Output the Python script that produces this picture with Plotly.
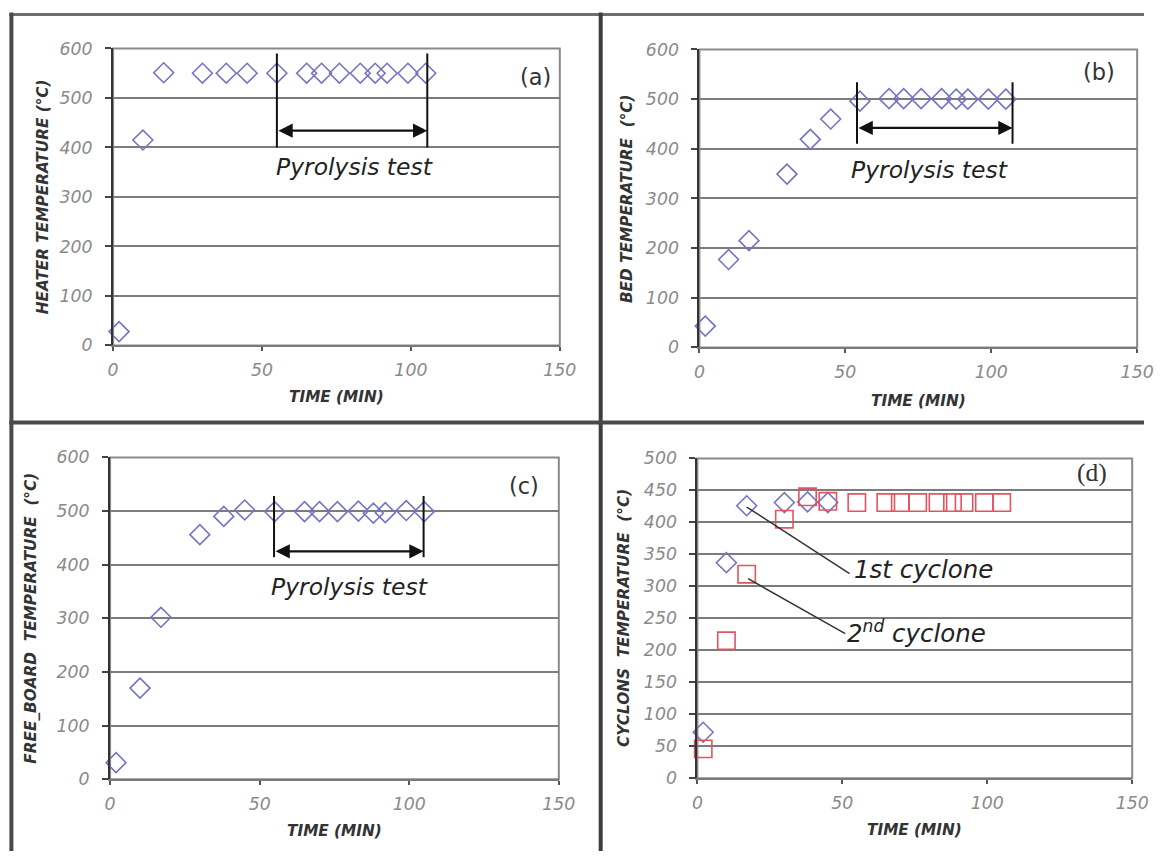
import plotly.graph_objects as go

W, H = 1161, 861

# measured: the photographed page shows figure pixel f at about 3.6 + 0.983 f
# horizontally and 9.5 + 0.977 f vertically, so target pixels are mapped back
SX, OX = 0.983, 3.6
SY, OY = 0.977, 9.5
FS = 1 / 0.98  # font / marker compensation

# ---------------- data ----------------
time_min = [2, 10, 17, 30, 38, 45, 55, 65, 70, 76, 83, 88, 92, 99, 105]
heater_temp = [28, 415, 551, 550, 550, 550, 550, 550, 550, 550, 550, 550, 550, 550, 550]
bed_temp = [43, 177, 215, 349, 419, 460, 496, 501, 501, 501, 501, 500, 500, 500, 500]
freeboard_temp = [31, 170, 302, 456, 490, 502, 499, 499, 499, 499, 500, 496, 497, 501, 499]
cyclone1_time = [2, 10, 17, 30, 38, 45]
cyclone1_temp = [72, 337, 426, 431, 432, 431]
cyclone2_temp = [46, 215, 319, 405, 440, 433, 431, 431, 431, 431, 431, 431, 431, 431, 431]

x_ticks = [0, 50, 100, 150]
panel_labels = ["(a)", "(b)", "(c)", "(d)"]
y_titles = ["HEATER TEMPERATURE (°C)", "BED TEMPERATURE  (°C)",
            "FREE_BOARD  TEMPERATURE  (°C)", "CYCLONS  TEMPERATURE  (°C)"]
x_title = "TIME (MIN)"

# pyrolysis window per panel: (start, end, line_bottom, line_top, arrow_y, text_x, text_y)
pyro_a = (55, 105.5, 400, 590, 434, 81, 360)
pyro_b = (54, 107.3, 410, 534, 442, 79, 357)
pyro_c = (54.8, 104.8, 414, 528, 425, 80, 358)

# ---------------- layout geometry (target page pixels) ----------------
panels = [  # (left, right, top, bottom) of each plot area
    (111, 559, 48, 345),
    (699, 1138, 49, 347),
    (108, 558, 457, 779),
    (697, 1133, 458, 778),
]
y_ranges = [(0, 600, 100), (0, 600, 100), (0, 600, 100), (0, 500, 50)]
ytitle_x = [41, 627, 29, 624]
xtitle_y = [397, 401, 831, 830]

DIAMOND = "#7474C4"
SQUARE = "#E2545E"
TICKC = "#8a8a8a"
FONT = "DejaVu Sans"


def px(x):
    return min(max((x - OX) / SX / W, 0), 1)


def py(y):
    return min(max(1 - (y - OY) / SY / H, 0), 1)


def ref(i, kind):
    return kind + ("" if i == 0 else str(i + 1))


fig = go.Figure()

series = [
    [(time_min, heater_temp, "diamond-open", DIAMOND, 15)],
    [(time_min, bed_temp, "diamond-open", DIAMOND, 15)],
    [(time_min, freeboard_temp, "diamond-open", DIAMOND, 15)],
    [(cyclone1_time, cyclone1_temp, "diamond-open", DIAMOND, 15),
     (time_min, cyclone2_temp, "square-open", SQUARE, 17)],
]
for i, lst in enumerate(series):
    for xs, ys, sym, col, sz in lst:
        fig.add_trace(go.Scatter(
            x=xs, y=ys, mode="markers",
            marker=dict(symbol=sym, size=sz * FS, color=col, line=dict(color=col, width=1.6)),
            xaxis=ref(i, "x"), yaxis=ref(i, "y"), cliponaxis=False, showlegend=False,
        ))

layout = dict(
    width=W, height=H, margin=dict(l=0, r=0, t=0, b=0),
    paper_bgcolor="white", plot_bgcolor="white", showlegend=False,
)
shapes = []
annotations = []
TITLE_FONT = dict(family=FONT, size=15 * FS, color="#333", weight="bold", style="italic")
TICK_FONT = dict(family=FONT, size=17 * FS, color=TICKC, style="italic")

for i, (l, r, t, b) in enumerate(panels):
    y0, y1, dy = y_ranges[i]
    layout[ref(i, "xaxis")] = dict(
        domain=[px(l), px(r)], range=[0, 150], tickvals=x_ticks,
        anchor=ref(i, "y"), showgrid=False, zeroline=False,
        showline=True, linecolor="#7a7a7a", linewidth=2,
        ticks="outside", ticklen=4, tickcolor="#555", tickwidth=1.5,
        tickfont=TICK_FONT, ticklabelstandoff=4, fixedrange=True,
    )
    layout[ref(i, "yaxis")] = dict(
        domain=[py(b), py(t)], range=[y0, y1], dtick=dy, tick0=0,
        anchor=ref(i, "x"), showgrid=True, gridcolor="#7c7c7c", gridwidth=2,
        zeroline=False, showline=True, linecolor="#333", linewidth=2,
        ticks="outside", ticklen=6, tickcolor="#444", tickwidth=1.5,
        tickfont=TICK_FONT, ticklabelstandoff=9, fixedrange=True,
    )
    shapes.append(dict(type="rect", xref=ref(i, "x") + " domain", yref=ref(i, "y") + " domain",
                       x0=0, x1=1, y0=0, y1=1, line=dict(color="#8a8a8a", width=2),
                       layer="below"))
    annotations.append(dict(
        text=y_titles[i], xref="paper", yref="paper",
        x=px(ytitle_x[i]), y=py((t + b) / 2), textangle=-90,
        showarrow=False, xanchor="center", yanchor="middle", font=TITLE_FONT,
    ))
    annotations.append(dict(
        text=x_title, xref="paper", yref="paper",
        x=px((l + r) / 2), y=py(xtitle_y[i]),
        showarrow=False, xanchor="center", yanchor="middle", font=TITLE_FONT,
    ))

# panel letters (data coords of each panel)
letter_pos = [(142, 543), (137, 554), (138.5, 547), (136, 478)]
for i, (lx, ly) in enumerate(letter_pos):
    fam = "Liberation Serif" if i == 3 else FONT
    annotations.append(dict(
        text=panel_labels[i], xref=ref(i, "x"), yref=ref(i, "y"), x=lx, y=ly,
        showarrow=False, xanchor="center", yanchor="middle",
        font=dict(family=fam, size=(22 if i < 3 else 25) * FS, color="#333"),
    ))

# pyrolysis annotations
for i, p in enumerate([pyro_a, pyro_b, pyro_c]):
    xs, xe, lb, lt, ay, tx, ty = p
    xr, yr = ref(i, "x"), ref(i, "y")
    for xv in (xs, xe):
        shapes.append(dict(type="line", xref=xr, yref=yr, x0=xv, x1=xv, y0=lb, y1=lt,
                           line=dict(color="#111", width=2)))
    annotations.append(dict(
        x=xe, y=ay, ax=xs, ay=ay, xref=xr, yref=yr, axref=xr, ayref=yr,
        text="", showarrow=True, arrowhead=2, arrowside="end+start",
        arrowsize=1.3, arrowwidth=2.2, arrowcolor="#111", standoff=0, startstandoff=0,
    ))
    annotations.append(dict(
        text="Pyrolysis test", xref=xr, yref=yr, x=tx, y=ty, showarrow=False,
        xanchor="center", yanchor="middle",
        font=dict(family=FONT, size=23 * FS, color="#222", style="italic"),
    ))

# cyclone labels (panel d)
shapes.append(dict(type="line", xref="x4", yref="y4", x0=17, y0=424, x1=52.5, y1=320,
                   line=dict(color="#333", width=1.5)))
shapes.append(dict(type="line", xref="x4", yref="y4", x0=17.5, y0=312, x1=51, y1=226,
                   line=dict(color="#333", width=1.5)))
annotations.append(dict(
    text="1st cyclone", xref="x4", yref="y4", x=53.5, y=326, showarrow=False,
    xanchor="left", yanchor="middle",
    font=dict(family=FONT, size=24 * FS, color="#222", style="italic"),
))
annotations.append(dict(
    text="2<sup>nd</sup> cyclone", xref="x4", yref="y4", x=51, y=228, showarrow=False,
    xanchor="left", yanchor="middle",
    font=dict(family=FONT, size=24 * FS, color="#222", style="italic"),
))

# outer frame / dividers (paper coords)
shapes += [
    dict(type="line", xref="paper", yref="paper", x0=px(7), x1=1, y0=py(14), y1=py(14),
         line=dict(color="#6e6e6e", width=3)),
    dict(type="line", xref="paper", yref="paper", x0=px(9), x1=px(9), y0=py(12), y1=0,
         line=dict(color="#4a4a4a", width=4)),
    dict(type="line", xref="paper", yref="paper", x0=px(600), x1=px(600), y0=py(12), y1=0,
         line=dict(color="#3e3e3e", width=4)),
    dict(type="line", xref="paper", yref="paper", x0=px(7), x1=1, y0=py(422), y1=py(422),
         line=dict(color="#4a4a4a", width=4)),
]

layout["shapes"] = shapes
layout["annotations"] = annotations
fig.update_layout(**layout)

fig.write_html("out.html")
